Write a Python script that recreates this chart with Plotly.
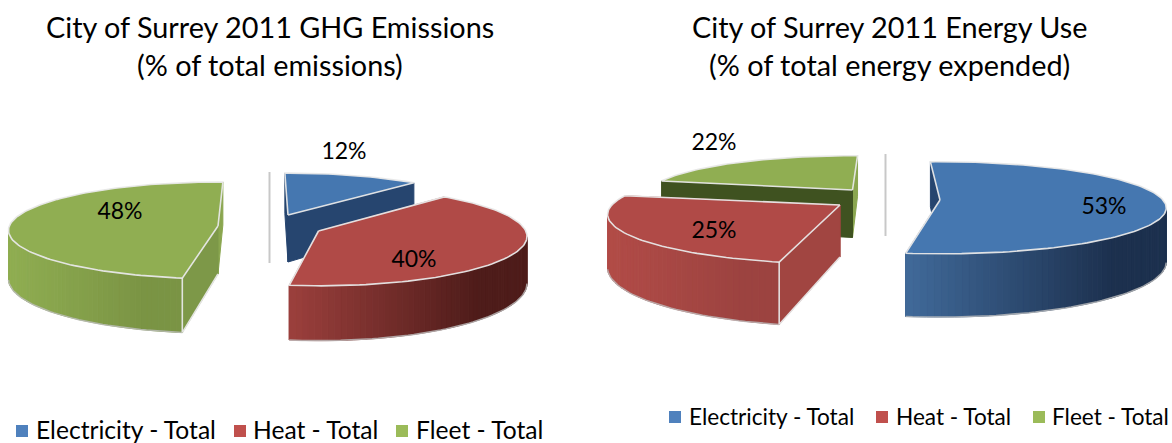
import math
import plotly.graph_objects as go

# ---- data ----
categories = ["Electricity - Total", "Heat - Total", "Fleet - Total"]
ghg_values = [12, 40, 48]
energy_values = [53, 25, 22]
title_ghg = ["City of Surrey 2011 GHG Emissions", "(% of total emissions)"]
title_energy = ["City of Surrey 2011 Energy Use", "(% of total energy expended)"]

# ---- styles ----
FONT = "Lato, Carlito, sans-serif"
LEGEND_COL = ["#4F81BD", "#C0504D", "#9BBB59"]
EDGE = "rgba(232,232,232,0.95)"
BLUE = dict(top="#4577B0", wall_l="#416A9A", wall_r="#1C304E", start="#26456F", end="#26456F")
RED = dict(top="#B04A47", wall_l="#9C403D", wall_r="#4E1C1A", start="#A14541", end="#A14541")
GREEN = dict(top="#90AE52", wall_l="#90AE52", wall_r="#7A9444", start="#7D9848", end="#8AA64F")

PIE_GHG = [
    dict(ax=288, ay=215, cx=288, cy=215, R=211, r=49, k=.17, rot=-1, D=47, **BLUE, lab=(344, 153)),
    dict(ax=318.5, ay=231, cx=320, cy=228, R=204, r=48, k=.17, rot=0, D=45.5, **RED, lab=(414, 261)),
    dict(ax=218, ay=226, cx=218, cy=224.6, R=208, r=47.7, k=.12, rot=1.5, D=48, **GREEN, lab=(120, 213)),
]
PIE_ENERGY = [
    dict(ax=940, ay=200, cx=941, cy=200, R=222, r=44.7, k=.17, rot=-3.2, D=52.5, **BLUE, lab=(1104, 208)),
    dict(ax=840, ay=205, cx=840, cy=206, R=229, r=48, k=.17, rot=2, D=52,
         top=RED["top"], wall_l="#B24C48", wall_r="#9C4340", start="#A14541", end="#A14541", lab=(714, 232)),
    dict(ax=852.5, ay=190, cx=853, cy=189, R=203, r=39, k=.17, rot=1.5, D=47.5,
         top=GREEN["top"], wall_l=GREEN["top"], wall_r=GREEN["top"], start="#3F5220", end="#8AA64F", lab=(714, 144)),
]


def rgb(h):
    return [int(h[i:i + 2], 16) for i in (1, 3, 5)]


def mix(a, b, f):
    return "rgb(%d,%d,%d)" % tuple(x + (y - x) * f for x, y in zip(rgb(a), rgb(b)))


def point(s, t):
    a = math.radians(t + s["rot"])
    u, v = math.sin(a), math.cos(a)
    q = 1 + s["k"] * v
    return s["cx"] + s["R"] * u / q, s["cy"] - s["r"] * v / q, s["D"] / q, v


fig = go.Figure()


def poly(xs, ys, fill, line=None, width=1):
    fig.add_trace(go.Scatter(x=xs, y=ys, mode="lines", fill="toself", fillcolor=fill,
                             line=dict(color=line or fill, width=width),
                             hoverinfo="skip", showlegend=False))


def edge(xs, ys, color=EDGE, width=1.6):
    fig.add_trace(go.Scatter(x=xs, y=ys, mode="lines", line=dict(color=color, width=width),
                             hoverinfo="skip", showlegend=False))


def draw_slice(s, t0, t1):
    ax, ay, D = s["ax"], s["ay"], s["D"]
    n = max(12, int((t1 - t0) / 1.5))
    ts = [t0 + (t1 - t0) * i / n for i in range(n + 1)]
    pts = [point(s, t) for t in ts]
    # cut faces
    for (px, py, pd, _), col in ((pts[-1], s["end"]), (pts[0], s["start"])):
        poly([px, ax, ax, px, px], [py, ay, ay + D, py + pd, py], col)
        if pts[0][3] < 0 and col == s["start"]:
            edge([px, ax, ax], [py + pd, ay + D, ay + D])
    # outer wall (front-facing strips only), shaded across its width
    front = [p for p in pts if p[3] < -s["k"]]
    if len(front) > 1:
        x0 = min(p[0] for p in front)
        x1 = max(p[0] for p in front)
        for a, b in zip(front[:-1], front[1:]):
            f = min(1, 1.25 * ((a[0] + b[0]) / 2 - x0) / max(x1 - x0, 1))
            poly([a[0], b[0], b[0], a[0], a[0]],
                 [a[1], b[1], b[1] + b[2], a[1] + a[2], a[1]],
                 mix(s["wall_l"], s["wall_r"], f))
        edge([p[0] for p in front], [p[1] + p[2] for p in front], "rgba(190,190,190,0.8)", 1.5)
    # vertical edge at the near cut corner
    if pts[0][3] < 0:
        edge([pts[0][0], pts[0][0]], [pts[0][1], pts[0][1] + pts[0][2]])
    # top surface
    xs = [ax] + [p[0] for p in pts] + [ax]
    ys = [ay] + [p[1] for p in pts] + [ay]
    poly(xs, ys, s["top"], EDGE, 1.6)


def draw_pie(values, styles, order):
    angles = []
    acc = 0
    total = sum(values)
    for v in values:
        angles.append((acc * 360 / total, (acc + v) * 360 / total))
        acc += v
    for i in order:
        draw_slice(styles[i], *angles[i])
    fig.add_trace(go.Scatter(
        x=[s["lab"][0] for s in styles], y=[s["lab"][1] for s in styles],
        text=[f"{v}%" for v in values], mode="text",
        textfont=dict(family=FONT, size=23, color="#000"),
        hoverinfo="skip", showlegend=False))


draw_pie(ghg_values, PIE_GHG, [0, 2, 1])
draw_pie(energy_values, PIE_ENERGY, [2, 1, 0])


def legend(mx, tx, y, size, marker):
    fig.add_trace(go.Scatter(
        x=mx, y=[y] * 3, mode="markers",
        marker=dict(symbol="square", size=marker, color=LEGEND_COL, line=dict(width=0)),
        hoverinfo="skip", showlegend=False))
    fig.add_trace(go.Scatter(
        x=tx, y=[y + 2] * 3, text=categories, mode="text", textposition="middle right",
        textfont=dict(family=FONT, size=size, color="#000"),
        hoverinfo="skip", showlegend=False))


legend([22, 240, 402], [36, 253, 416], 431, 24.6, 12)
legend([675, 882, 1039], [689, 896, 1052], 417, 22.6, 12)

annotations = []
for lines, xc in ((title_ghg, 269.5), (title_energy, 889.5)):
    for line, y in zip(lines, (27, 65)):
        annotations.append(dict(x=xc, y=y, xref="x", yref="y", text=line, showarrow=False,
                                xanchor="center", yanchor="middle",
                                font=dict(family=FONT, size=28.8, color="#000")))

shapes = [
    dict(type="line", x0=269.5, x1=269.5, y0=172, y1=263, xref="x", yref="y",
         line=dict(color="#C8C8C8", width=2)),
    dict(type="line", x0=885.5, x1=885.5, y0=154, y1=236, xref="x", yref="y",
         line=dict(color="#C8C8C8", width=2)),
]

fig.update_layout(
    width=1172, height=443, margin=dict(l=0, r=0, t=0, b=0),
    paper_bgcolor="white", plot_bgcolor="white", showlegend=False,
    xaxis=dict(range=[0, 1172], visible=False, fixedrange=True),
    yaxis=dict(range=[443, 0], visible=False, fixedrange=True),
    annotations=annotations, shapes=shapes,
)
fig.write_html("out.html", config=dict(displayModeBar=False),
               post_script="document.body.style.margin='0';document.body.style.overflow='hidden';")
